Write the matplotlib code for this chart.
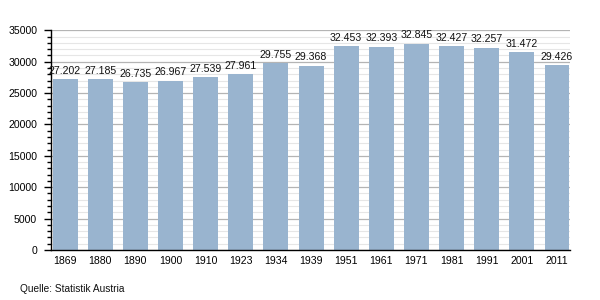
import matplotlib
matplotlib.use("Agg")
import matplotlib.pyplot as plt
from matplotlib.ticker import MultipleLocator

years = ["1869", "1880", "1890", "1900", "1910", "1923", "1934", "1939",
         "1951", "1961", "1971", "1981", "1991", "2001", "2011"]
population = [27202, 27185, 26735, 26967, 27539, 27961, 29755, 29368,
              32453, 32393, 32845, 32427, 32257, 31472, 29426]
source = "Quelle: Statistik Austria"

plt.rcParams['font.family'] = ['Liberation Sans', 'DejaVu Sans']

fig = plt.figure(figsize=(6, 3), dpi=100)
ax = fig.add_axes([0.085, 0.1667, 0.865, 0.7323])

x = list(range(len(years)))
ax.bar(x, population, width=0.71, color="#99b4cf", zorder=3)

for xi, v in zip(x, population):
    label = f"{v:,}".replace(",", ".")
    ax.text(xi, v + 550, label, ha="center", va="bottom", fontsize=7.6, color="#111111", zorder=4)

ax.set_xlim(-0.4, 14.37)
ax.set_ylim(0, 35000)
ax.yaxis.set_major_locator(MultipleLocator(5000))
ax.yaxis.set_minor_locator(MultipleLocator(1000))
ax.set_xticks(x)
ax.set_xticklabels(years)

ax.grid(which="major", axis="y", color="#b4b4b4", linewidth=0.9, zorder=1)
ax.grid(which="minor", axis="y", color="#e6e6e6", linewidth=0.8, zorder=0)

for s in ["top", "right"]:
    ax.spines[s].set_visible(False)
ax.spines["left"].set_color("black")
ax.spines["bottom"].set_color("black")
ax.spines["left"].set_linewidth(1.0)
ax.spines["bottom"].set_linewidth(1.0)
ax.spines["bottom"].set_zorder(5)

ax.tick_params(axis="x", length=0, pad=4, labelsize=7.6)
ax.tick_params(axis="y", which="major", length=5, width=1, pad=5, labelsize=7.6)
ax.tick_params(axis="y", which="minor", length=3, width=1)

fig.text(20 / 600, 1 - 289 / 300, source, fontsize=7.3, ha="left", va="center", color="#111111")

fig.savefig("out.png", dpi=100)
